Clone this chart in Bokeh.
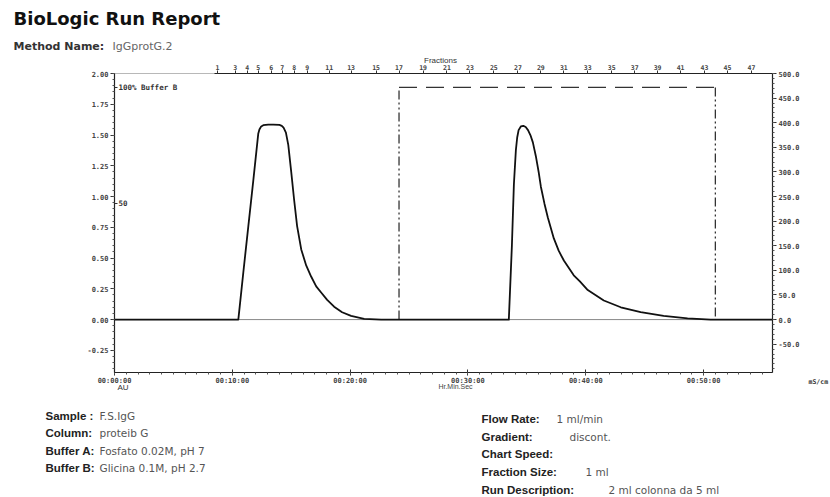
from bokeh.plotting import figure
from bokeh.models import Range1d, LinearAxis, FixedTicker
from bokeh.core.properties import value
from bokeh.embed import file_html
from bokeh.resources import INLINE

# ---- data ----
time_min = [0, 10.51, 10.93, 11.36, 11.78, 12.2, 12.3, 12.45, 12.63, 13.05, 13.47, 14.0, 14.2, 14.35,
            14.55, 14.75, 15.0, 15.25, 15.5, 15.85, 16.27, 16.69, 17.12, 17.54, 18.05, 18.64,
            19.32, 20.08, 21.19, 22.63, 33.47, 33.73, 33.9, 34.07, 34.18, 34.3, 34.49, 34.7, 34.9,
            35.1, 35.3, 35.51, 35.76, 36.0, 36.19, 36.5, 36.78, 37.29, 37.7, 38.14, 38.98, 39.5,
            40.17, 41.53, 42.97, 44.66, 46.61, 48.64, 50.6, 55.85]
au = [0, 0, 0.38, 0.76, 1.13, 1.51, 1.545, 1.57, 1.58, 1.585, 1.585, 1.582, 1.575, 1.56,
      1.52, 1.42, 1.2, 0.97, 0.76, 0.57, 0.44, 0.35, 0.27, 0.22, 0.16, 0.105,
      0.06, 0.03, 0.005, 0, 0, 0.6, 1.1, 1.38, 1.48, 1.54, 1.57, 1.575, 1.565,
      1.54, 1.5, 1.44, 1.33, 1.2, 1.08, 0.94, 0.83, 0.66, 0.56, 0.48, 0.36, 0.31,
      0.24, 0.155, 0.10, 0.06, 0.03, 0.01, 0, 0]

grad_time = [0, 24.15, 24.15, 51.0, 51.0, 55.85]
grad_pct = [0, 0, 100, 100, 0, 0]

frac_pos = [8.73, 10.25, 11.27, 12.2, 13.3, 14.24, 15.25, 16.36, 18.22, 20.08, 22.2, 24.15,
            26.19, 28.22, 30.17, 32.2, 34.24, 36.19, 38.14, 40.17, 42.2, 44.15, 46.1, 48.05,
            50.08, 52.03, 54.07]
frac_lbl = ["1", "3", "4", "5", "6", "7", "8", "9", "11", "13", "15", "17",
            "19", "21", "23", "25", "27", "29", "31", "33", "35", "37", "39", "41",
            "43", "45", "47"]

time_ticks = [0, 10, 20, 30, 40, 50]
time_lbls = ["00:00:00", "00:10:00", "00:20:00", "00:30:00", "00:40:00", "00:50:00"]

au_ticks = [-0.25, 0.0, 0.25, 0.5, 0.75, 1.0, 1.25, 1.5, 1.75, 2.0]
au_lbls = ["-0.25", "0.00", "0.25", "0.50", "0.75", "1.00", "1.25", "1.50", "1.75", "2.00"]

ms_ticks = [-50, 0, 50, 100, 150, 200, 250, 300, 350, 400, 450, 500]
ms_lbls = ["-50.0", "0.0", "50.0", "100.0", "150.0", "200.0", "250.0", "300.0",
           "350.0", "400.0", "450.0", "500.0"]

pct_ticks = [100, 50]
pct_lbls = ["100% Buffer B", "50"]

left_keys = ["Sample :", "Column:", "Buffer A:", "Buffer B:"]
left_vals = ["F.S.IgG", "proteib G", "Fosfato 0.02M, pH 7", "Glicina 0.1M, pH 2.7"]
right_keys = ["Flow Rate:", "Gradient:", "Chart Speed:", "Fraction Size:", "Run Description:"]
right_vals = ["1 ml/min", "discont.", "", "1 ml", "2 ml colonna da 5 ml"]

# ---- layout constants (page pixels) ----
W, H = 830, 497
FL, FR, FT, FB = 114, 772, 73, 372          # chart area edges on the page
T0, T1 = 0.0, 55.85                          # time extent (min)
A0, A1 = -0.43, 2.0                          # AU extent
MS_PER_AU, PCT_PER_AU = 250.0, 53.0

px_t = (FR - FL) / (T1 - T0)
px_a = (FB - FT) / (A1 - A0)
t_rng = Range1d(T0 - FL / px_t, T1 + (W - FR) / px_t)
a_lo, a_hi = A0 - (H - FB) / px_a, A1 + FT / px_a

MONO = "DejaVu Sans Mono"
SANS = "Liberation Sans"
WIDE = "DejaVu Sans"

# page-pixel default ranges for free text; chart on extra ranges
p = figure(width=W, height=H, output_backend="svg", toolbar_location=None,
           x_range=Range1d(0, W), y_range=Range1d(H, 0), min_border=0,
           x_axis_location=None, y_axis_location=None)
p.xgrid.visible = False
p.ygrid.visible = False
p.outline_line_color = None
p.extra_x_ranges = {"t": t_rng}
p.extra_y_ranges = {"au": Range1d(a_lo, a_hi),
                    "ms": Range1d(a_lo * MS_PER_AU, a_hi * MS_PER_AU),
                    "pct": Range1d(a_lo * PCT_PER_AU, a_hi * PCT_PER_AU)}


def style(ax, size="7px"):
    ax.major_label_text_font = MONO
    ax.major_label_text_font_style = "bold"
    ax.major_label_text_font_size = size
    ax.major_label_text_color = "#444444"
    ax.axis_line_color = "#222222"
    ax.axis_line_width = 1.2
    ax.major_tick_line_color = "#333333"
    ax.minor_tick_line_color = "#555555"
    ax.major_tick_out = 4
    ax.major_tick_in = 0
    ax.minor_tick_out = 2
    ax.minor_tick_in = 0
    ax.major_label_standoff = 2


# thin frame box around the chart
p.quad(left=[T0], right=[T1], bottom=[A0], top=[A1], x_range_name="t", y_range_name="au",
       fill_color=None, line_color="#9a9a9a", line_width=0.7)

left = LinearAxis(x_range_name="t", y_range_name="au", fixed_location=T0, bounds=(A0, A1),
                  ticker=FixedTicker(ticks=au_ticks, minor_ticks=[i * 0.05 - 0.4 for i in range(49)]),
                  major_label_overrides={t: l for t, l in zip(au_ticks, au_lbls)})
style(left)
p.add_layout(left, "left")

right = LinearAxis(x_range_name="t", y_range_name="ms", fixed_location=T1,
                   bounds=(A0 * MS_PER_AU, A1 * MS_PER_AU),
                   ticker=FixedTicker(ticks=ms_ticks, minor_ticks=[i * 10 - 100 for i in range(61)]),
                   major_label_overrides={t: l for t, l in zip(ms_ticks, ms_lbls)})
style(right)
p.add_layout(right, "right")

bottom = LinearAxis(x_range_name="t", y_range_name="au", fixed_location=A0, bounds=(T0, T1),
                    ticker=FixedTicker(ticks=time_ticks, minor_ticks=list(range(0, 56))),
                    major_label_overrides={t: l for t, l in zip(time_ticks, time_lbls)})
style(bottom)
bottom.major_tick_in = 3
bottom.major_tick_out = 3
bottom.major_label_standoff = 1
p.add_layout(bottom, "below")

top = LinearAxis(x_range_name="t", y_range_name="au", fixed_location=A1,
                 bounds=(frac_pos[0] - 0.2, T1),
                 ticker=FixedTicker(ticks=frac_pos, minor_ticks=[]),
                 major_label_overrides={t: l for t, l in zip(frac_pos, frac_lbl)})
style(top, "6.5px")
top.major_tick_out = 3
top.major_label_standoff = 1
p.add_layout(top, "above")

# inner %B scale, just right of the left axis
inner = LinearAxis(x_range_name="t", y_range_name="pct", fixed_location=T0, bounds=(0, 100),
                   ticker=FixedTicker(ticks=pct_ticks, minor_ticks=[]),
                   major_label_overrides={t: l for t, l in zip(pct_ticks, pct_lbls)})
style(inner, "7.5px")
inner.axis_line_color = None
inner.major_tick_out = 3
inner.major_tick_in = 0
inner.major_label_standoff = 1
inner.major_label_text_color = "#333333"
p.add_layout(inner, "right")

# traces
p.line([T0, T1], [0, 0], x_range_name="t", y_range_name="au", line_color="#888888", line_width=1.0)
# gradient (% Buffer B): dash-dot risers, long-dash plateau
p.line(grad_time[1:3], grad_pct[1:3], x_range_name="t", y_range_name="pct", line_color="#333333",
       line_width=1.3, line_dash="9 3 2 3 2 3")
p.line(grad_time[2:4], grad_pct[2:4], x_range_name="t", y_range_name="pct", line_color="#333333",
       line_width=1.3, line_dash="18 9")
p.line(grad_time[3:5], grad_pct[3:5], x_range_name="t", y_range_name="pct", line_color="#333333",
       line_width=1.3, line_dash="9 3 2 3 2 3")
p.line(time_min, au, x_range_name="t", y_range_name="au", line_color="#111111",
       line_width=1.8, line_join="round")


def put(xs, ys, texts, size, style="normal", color="#222222", font=SANS, align="left"):
    p.text(x=xs, y=ys, text=texts, text_font=value(font), text_font_size=size,
           text_font_style=style, text_color=color, text_baseline="middle", text_align=align)


# header
put([13], [18], ["BioLogic Run Report"], "18px", "bold", "#111111", font=WIDE)
put([13], [46], ["Method Name:"], "11px", "bold", "#333333", font=WIDE)
put([112], [46], ["IgGprotG.2"], "11px", "normal", "#666666", font=WIDE)

# axis titles
put([440], [60], ["Fractions"], "8px", "normal", "#333333", align="center")
put([117], [387], ["AU"], "8px", "normal", "#333333")
put([455], [386], ["Hr.Min.Sec"], "7px", "normal", "#444444", align="center")
put([808], [381], ["mS/cm"], "6.5px", "bold", "#333333", font=MONO)

# footer
ly = [415, 432, 450, 467]
put([45] * 4, ly, left_keys, "11.5px", "bold", "#222222")
put([99] * 4, ly, left_vals, "10.5px", "normal", "#555555", font=WIDE)
ry = [418, 436, 453, 471, 489]
put([481] * 5, ry, right_keys, "11.5px", "bold", "#222222")
put([556, 569, 0, 585, 608], ry, right_vals, "10.5px", "normal", "#555555", font=WIDE)

open("out.html", "w").write(file_html(p, INLINE))
